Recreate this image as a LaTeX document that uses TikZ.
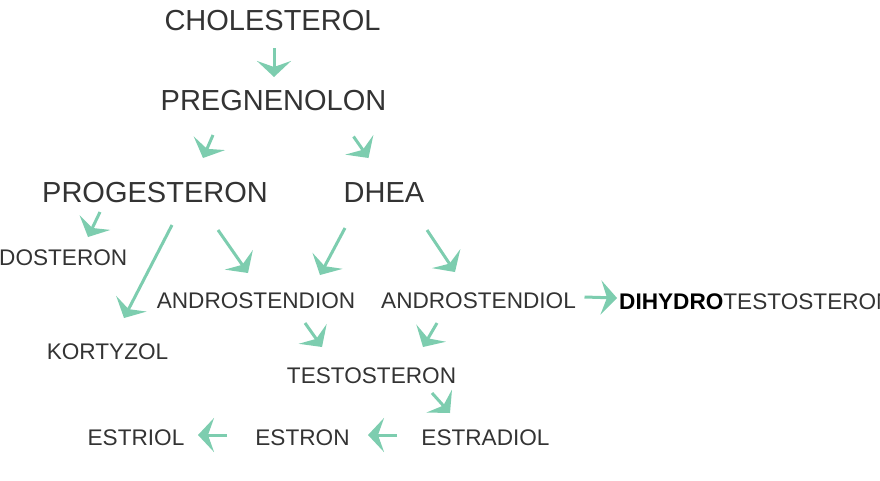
\documentclass[tikz,border=0pt]{standalone}
\usepackage{fontspec}
\setmainfont{Liberation Sans}
\usetikzlibrary{arrows.meta}
\definecolor{mint}{RGB}{125,205,175}
\definecolor{ink}{RGB}{51,51,51}

\begin{document}
\begin{tikzpicture}[x=1pt,y=-1pt,
    big/.style={inner sep=0pt,text height=20.8pt,text depth=0pt,text=ink,font=\fontsize{29}{30}\selectfont},
    small/.style={inner sep=0pt,text height=16.2pt,text depth=0pt,text=ink,font=\fontsize{22.6}{24}\selectfont},
    conv/.style={draw=mint,line width=3pt,-{Stealth[length=16pt,width=34pt,inset=6pt]}}]
      \useasboundingbox (0,0) rectangle (880,480);
      \node[big] (chol) at (272.5,20) {CHOLESTEROL};
      \node[big] (preg) at (273.5,100.5) {PREGNENOLON};
      \node[big] (prog) at (155,192) {PROGESTERON};
      \node[big] (dhea) at (384,192) {DHEA};
      \node[small,anchor=west] (aldo) at (-1,257.5) {DOSTERON};
      \node[small] (andn) at (256,300) {ANDROSTENDION};
      \node[small] (andl) at (478.5,300) {ANDROSTENDIOL};
      \node[small,anchor=west] (dht) at (619,301) {{\bfseries\color{black}DIHYDRO}TESTOSTERON};
      \node[small] (kort) at (107.5,351) {KORTYZOL};
      \node[small] (test) at (371.5,375) {TESTOSTERON};
      \node[small] (estriol) at (136,437) {ESTRIOL};
      \node[small] (estron) at (302.5,437) {ESTRON};
      \node[small] (estradiol) at (485.5,437) {ESTRADIOL};
      % reaction arrows
      \draw[conv] ([shift={(1.5,28)}]chol.center) -- ([shift={(0.5,-23.5)}]preg.center);
      \draw[conv] ([shift={(-60.5,34.5)}]preg.center) -- ([shift={(48,-34)}]prog.center);
      \draw[conv] ([shift={(80,36)}]preg.center) -- ([shift={(-15.5,-34)}]dhea.center);
      \draw[conv] ([shift={(-55,20)}]prog.center) -- ([shift={(89,-20.5)}]aldo.west);
      \draw[conv] ([shift={(17,33)}]prog.center) -- ([shift={(16.5,-33)}]kort.center);
      \draw[conv] ([shift={(63,38)}]prog.center) -- ([shift={(-8,-27)}]andn.center);
      \draw[conv] ([shift={(-39,36)}]dhea.center) -- ([shift={(64,-25)}]andn.center);
      \draw[conv] ([shift={(43,38)}]dhea.center) -- ([shift={(-23.5,-28)}]andl.center);
      \draw[conv] ([shift={(49,23)}]andn.center) -- ([shift={(-49.5,-28)}]test.center);
      \draw[conv] ([shift={(-41.5,23)}]andl.center) -- ([shift={(51.5,-28)}]test.center);
      \draw[conv] ([shift={(60.5,18)}]test.center) -- ([shift={(-35.5,-24)}]estradiol.center);
      \draw[conv] ([shift={(-88.5,-2)}]estradiol.center) -- ([shift={(65.5,-2)}]estron.center);
      \draw[conv] ([shift={(-75.5,-2)}]estron.center) -- ([shift={(62,-2)}]estriol.center);
      \draw[conv] ([shift={(106,-3)}]andl.center) -- ([shift={(-2,-3)}]dht.west);
\end{tikzpicture}
\end{document}
